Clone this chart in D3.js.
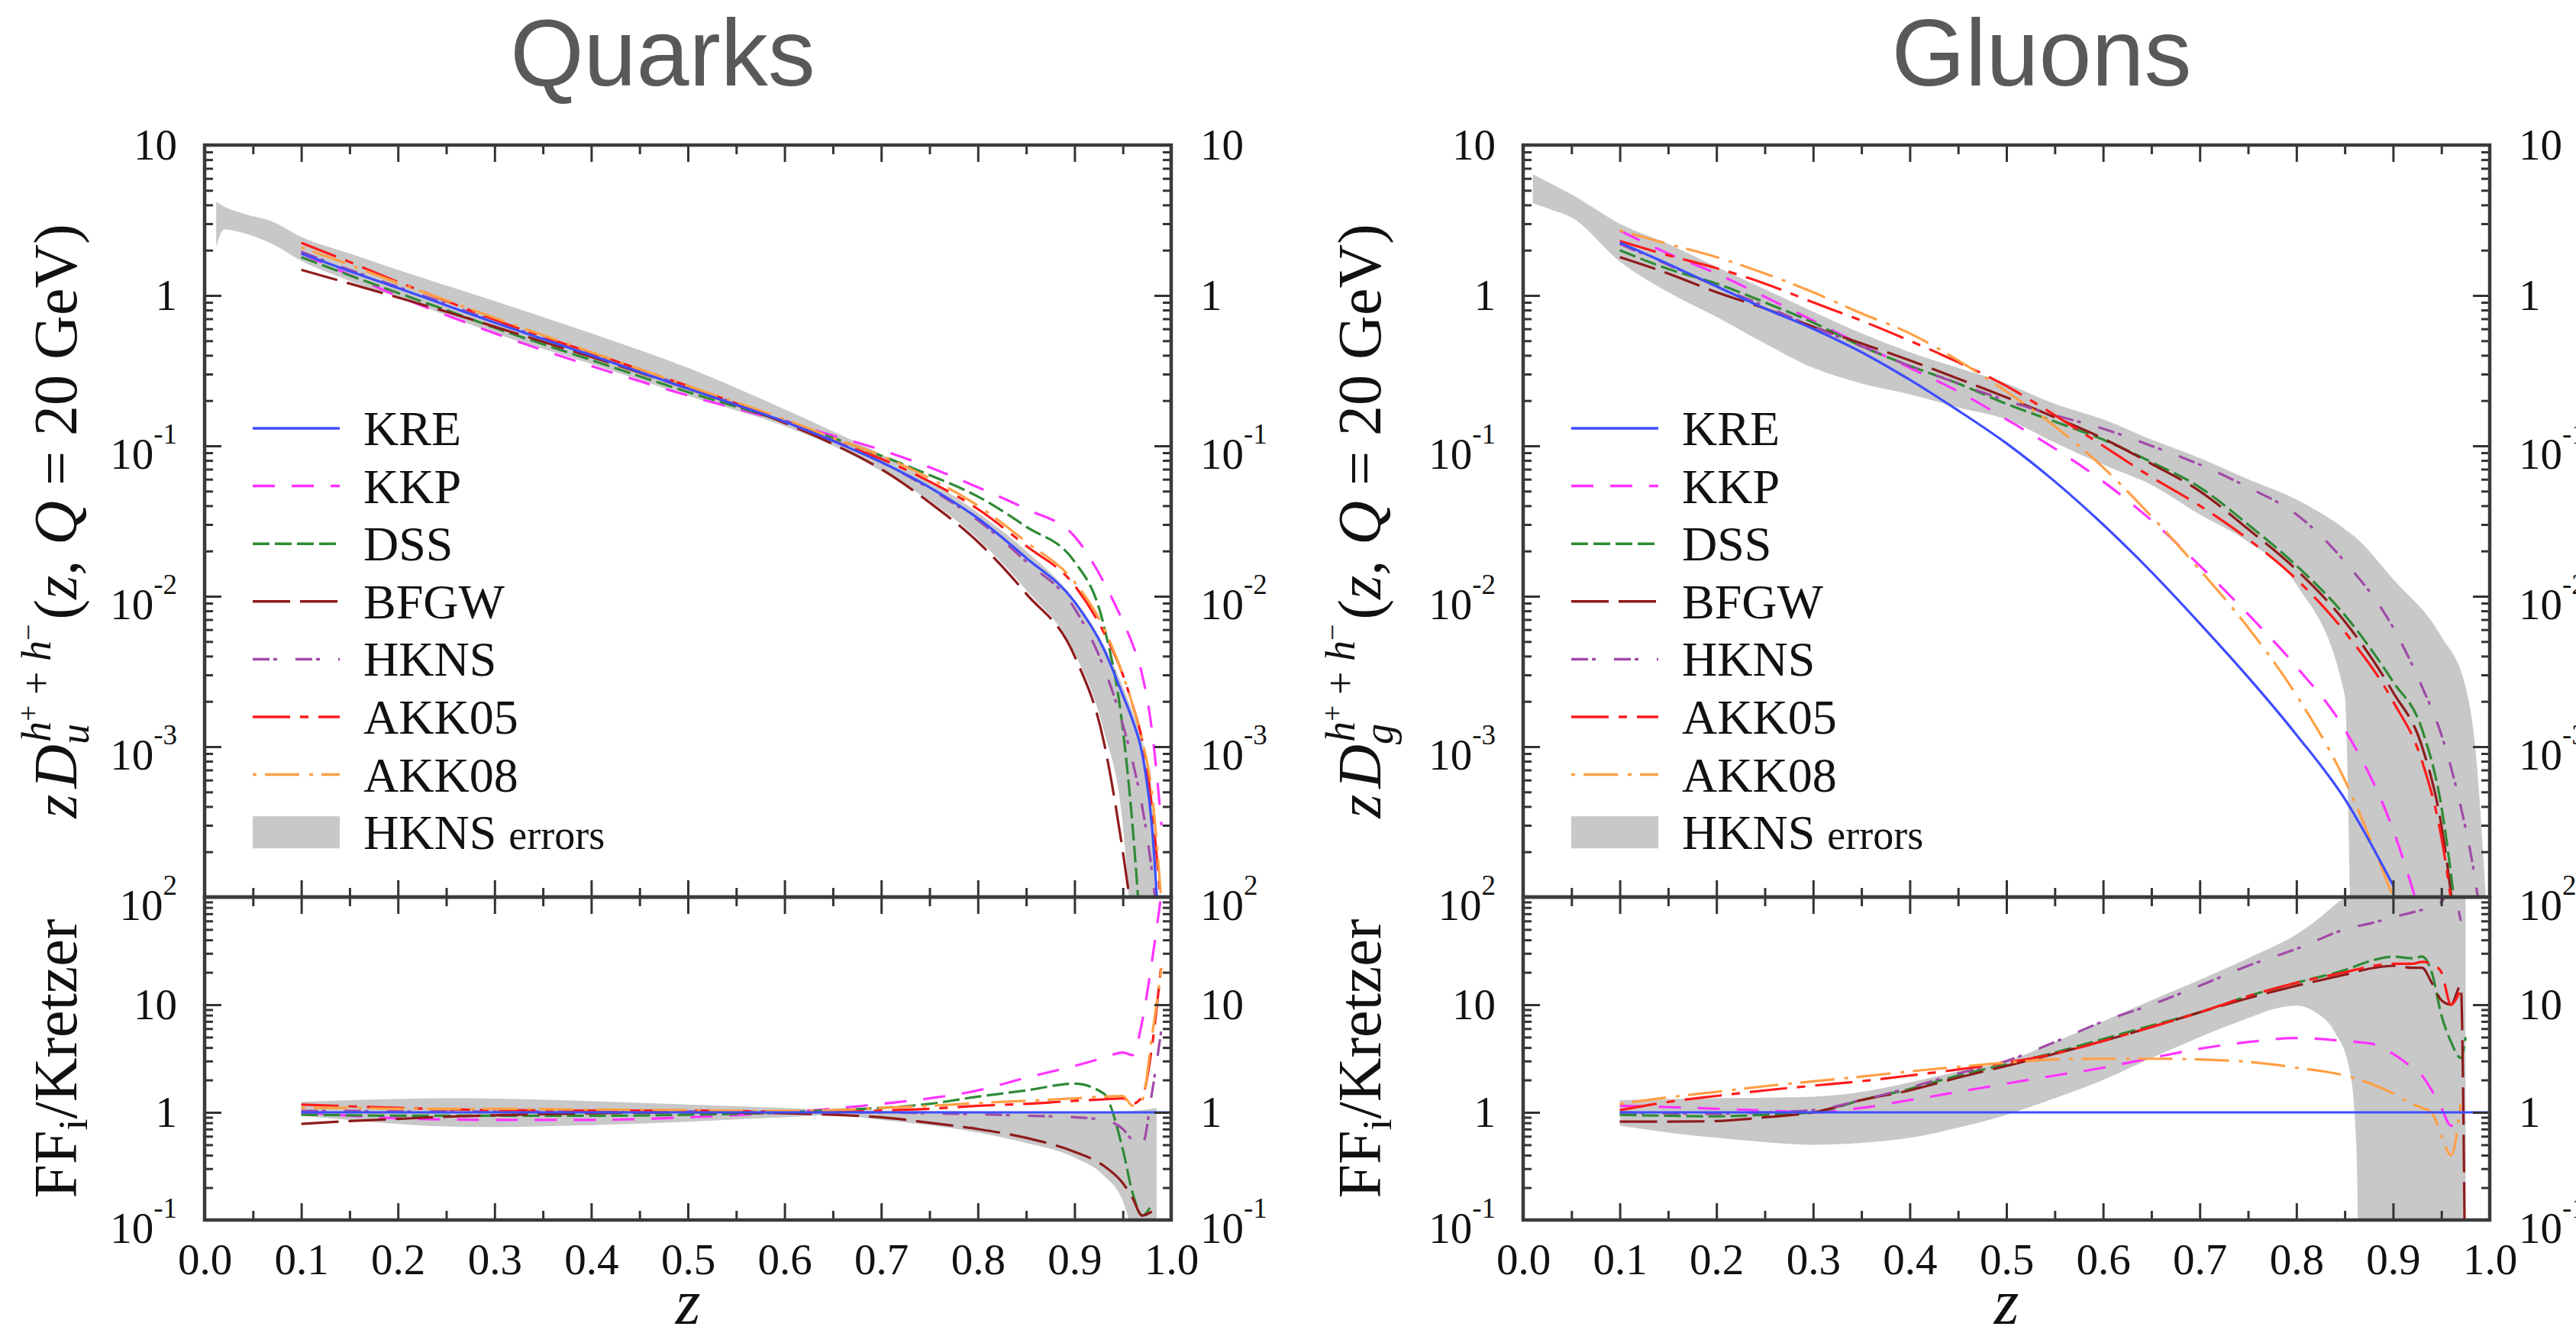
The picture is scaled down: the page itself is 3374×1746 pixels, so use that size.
<!DOCTYPE html>
<html>
<head>
<meta charset="utf-8">
<script src="https://cdn.jsdelivr.net/npm/d3@7"></script>
<style>
  body { margin: 0; background: #fff; }
  svg { display: block; }
  text { font-family: "Liberation Serif", "DejaVu Serif", serif; fill: #111; }
</style>
</head>
<body>
<div id="chart"></div>
<script>
// ---- data ----
var seriesNames = ['KRE', 'KKP', 'DSS', 'BFGW', 'HKNS', 'AKK05', 'AKK08'];
var seriesColors = ['#3d4dff', '#ff33ff', '#2f8a35', '#8e1b1b', '#a04aa8', '#ff1a1a', '#ff9f45'];
var seriesDash = ['none', '29,22', '22,7', '49,13', '22,5,5,24', '49,13,11,13', '5,11,45,13'];
var bandName = 'HKNS errors';

var xTicks = [0.0, 0.1, 0.2, 0.3, 0.4, 0.5, 0.6, 0.7, 0.8, 0.9, 1.0];
var upperTicks = [10, 1, 0.1, 0.01, 0.001];
var upperTickLabels = [['10', ''], ['1', ''], ['10', '-1'], ['10', '-2'], ['10', '-3']];
var lowerTicks = [100, 10, 1, 0.1];
var lowerTickLabels = [['10', '2'], ['10', ''], ['1', ''], ['10', '-1']];

// quarks, upper panel
var zQuark = [0.1, 0.15, 0.2, 0.25, 0.3, 0.4, 0.5, 0.6, 0.65, 0.7, 0.75, 0.8, 0.85, 0.9, 0.93, 0.95, 0.96, 0.97, 0.98, 0.99];
var quarkKRE = [1.9, 1.45, 1.12, 0.86, 0.66, 0.40, 0.24, 0.145, 0.108, 0.078, 0.053, 0.033, 0.018, 0.0092, 0.0045, 0.0022, 0.0015, 0.0009, 0.0003, 0.00003];
var quarkKKP = [1.9, 1.37, 0.99, 0.74, 0.56, 0.34, 0.216, 0.145, 0.117, 0.094, 0.072, 0.053, 0.038, 0.025, 0.0125, 0.0068, 0.0048, 0.003, 0.0013, 0.0003];
var quarkDSS = [1.8, 1.36, 1.04, 0.80, 0.61, 0.372, 0.228, 0.145, 0.113, 0.086, 0.064, 0.046, 0.029, 0.017, 0.0065, 0.0013, 0.0003, 0.00004, null, null];
var quarkBFGW = [1.48, 1.2, 0.97, 0.78, 0.62, 0.39, 0.24, 0.142, 0.103, 0.07, 0.042, 0.023, 0.0104, 0.004, 0.0011, 0.0002, 0.00007, null, null, null];
var quarkHKNS = [1.95, 1.48, 1.14, 0.88, 0.67, 0.41, 0.245, 0.148, 0.109, 0.078, 0.052, 0.032, 0.017, 0.0083, 0.0034, 0.0014, 0.0008, 0.0004, 0.00015, 0.00004];
var quarkAKK05 = [2.24, 1.67, 1.23, 0.92, 0.69, 0.416, 0.25, 0.145, 0.108, 0.082, 0.058, 0.038, 0.0216, 0.0118, 0.0058, 0.003, 0.0019, 0.0011, 0.0004, 0.00008];
var quarkAKK08 = [2.09, 1.6, 1.21, 0.93, 0.71, 0.42, 0.25, 0.15, 0.113, 0.086, 0.061, 0.04, 0.023, 0.0124, 0.0062, 0.003, 0.0019, 0.0011, 0.0005, 0.00009];
var zQuarkBand = [0.012, 0.02, 0.04, 0.07, 0.1, 0.15, 0.2, 0.3, 0.4, 0.5, 0.6, 0.65, 0.7, 0.8, 0.85, 0.9, 0.93, 0.95, 0.96, 0.97, 0.98, 0.985];
var quarkBandHi = [4.2, 3.9, 3.5, 3.1, 2.45, 1.9, 1.48, 0.92, 0.56, 0.33, 0.175, 0.125, 0.088, 0.036, 0.02, 0.0095, 0.0048, 0.0025, 0.0017, 0.0011, 0.0005, 0.0001];
var quarkBandLo = [2.1, 2.75, 2.6, 2.2, 1.7, 1.25, 0.97, 0.56, 0.35, 0.215, 0.135, 0.1, 0.068, 0.024, 0.011, 0.0042, 0.0013, 0.0003, 0.00005, 0.00001, 0.00001, 0.0001];

// quarks, ratio panel
var zQuarkRatio = [0.1, 0.15, 0.2, 0.25, 0.3, 0.4, 0.5, 0.6, 0.65, 0.7, 0.75, 0.8, 0.85, 0.9, 0.93, 0.95, 0.96, 0.97, 0.98, 0.99, 1.0];
var ratioQuarkKRE = [1, 1, 1, 1, 1, 1, 1, 1, 1, 1, 1, 1, 1, 1, 1, 1, 1, 1, 1, 1, 1];
var ratioQuarkKKP = [1.0, 0.93, 0.88, 0.86, 0.85, 0.85, 0.9, 1.0, 1.08, 1.2, 1.35, 1.6, 2.1, 2.7, 3.2, 3.6, 3.4, 7, 25, 110, null];
var ratioQuarkDSS = [0.95, 0.94, 0.93, 0.93, 0.93, 0.93, 0.95, 1.0, 1.05, 1.1, 1.2, 1.4, 1.6, 1.85, 1.5, 0.45, 0.18, 0.11, 0.14, null, null];
var ratioQuarkBFGW = [0.78, 0.83, 0.87, 0.91, 0.94, 0.98, 1.0, 0.98, 0.95, 0.9, 0.8, 0.7, 0.58, 0.43, 0.32, 0.22, 0.16, 0.11, 0.12, null, null];
var ratioQuarkHKNS = [1.03, 1.03, 1.02, 1.02, 1.02, 1.02, 1.02, 1.01, 1.0, 1.0, 0.98, 0.96, 0.93, 0.9, 0.85, 0.7, 0.55, 0.5, 1.5, 6, null];
var ratioQuarkAKK05 = [1.18, 1.14, 1.1, 1.07, 1.05, 1.04, 1.04, 1.01, 1.0, 1.04, 1.08, 1.15, 1.2, 1.28, 1.32, 1.35, 1.2, 1.4, 4, 25, null];
var ratioQuarkAKK08 = [1.1, 1.1, 1.08, 1.08, 1.08, 1.06, 1.05, 1.03, 1.05, 1.1, 1.15, 1.22, 1.28, 1.35, 1.4, 1.42, 1.15, 1.3, 5, 22, null];
var zQuarkRatioBand = [0.1, 0.15, 0.2, 0.25, 0.3, 0.4, 0.5, 0.6, 0.65, 0.7, 0.75, 0.8, 0.85, 0.9, 0.93, 0.95, 0.96, 0.97, 0.98, 0.985];
var ratioQuarkBandHi = [1.25, 1.3, 1.33, 1.35, 1.34, 1.27, 1.18, 1.1, 1.06, 1.04, 1.03, 1.02, 1.01, 1.01, 1.01, 1.02, 1.03, 1.05, 1.08, 1.1];
var ratioQuarkBandLo = [0.93, 0.85, 0.78, 0.74, 0.73, 0.76, 0.82, 0.9, 0.94, 0.85, 0.76, 0.65, 0.52, 0.38, 0.26, 0.15, 0.08, 0.05, 0.05, 0.05];

// gluons, upper panel
var zGluon = [0.1, 0.15, 0.2, 0.25, 0.3, 0.35, 0.4, 0.45, 0.5, 0.55, 0.6, 0.65, 0.7, 0.75, 0.8, 0.85, 0.9, 0.93, 0.95, 0.97, 0.98, 0.99];
var gluonKRE = [2.25, 1.62, 1.15, 0.82, 0.6, 0.42, 0.275, 0.172, 0.104, 0.058, 0.03, 0.0145, 0.0066, 0.0029, 0.0012, 0.00045, 0.00012, null, null, null, null, null];
var gluonKKP = [2.7, 1.9, 1.4, 0.98, 0.68, 0.47, 0.33, 0.23, 0.15, 0.096, 0.058, 0.032, 0.016, 0.0076, 0.0034, 0.0013, 0.00028, 0.00007, null, null, null, null];
var gluonDSS = [2.0, 1.5, 1.2, 0.9, 0.66, 0.46, 0.34, 0.26, 0.19, 0.145, 0.11, 0.078, 0.053, 0.03, 0.016, 0.0075, 0.0027, 0.0013, 0.0004, 0.00004, null, null];
var gluonBFGW = [1.8, 1.4, 1.05, 0.82, 0.62, 0.48, 0.37, 0.28, 0.21, 0.155, 0.112, 0.076, 0.05, 0.028, 0.015, 0.0068, 0.0023, 0.001, 0.0003, 0.00003, null, null];
var gluonHKNS = [2.2, 1.6, 1.15, 0.85, 0.62, 0.46, 0.34, 0.26, 0.2, 0.16, 0.13, 0.1, 0.075, 0.053, 0.035, 0.017, 0.0062, 0.0025, 0.0012, 0.0004, 0.0002, 0.00008];
var gluonAKK05 = [2.3, 1.85, 1.52, 1.2, 0.9, 0.68, 0.5, 0.36, 0.25, 0.16, 0.1, 0.062, 0.04, 0.024, 0.013, 0.0058, 0.002, 0.0008, 0.00025, 0.00003, null, null];
var gluonAKK08 = [2.7, 2.2, 1.8, 1.4, 1.05, 0.76, 0.56, 0.37, 0.23, 0.135, 0.072, 0.034, 0.015, 0.0062, 0.0022, 0.0006, 0.0001, null, null, null, null, null];
var zGluonBand = [0.01, 0.03, 0.05, 0.1, 0.15, 0.2, 0.25, 0.3, 0.35, 0.4, 0.45, 0.5, 0.55, 0.6, 0.65, 0.7, 0.75, 0.8, 0.85, 0.86, 0.9, 0.95, 0.975, 0.985, 0.996];
var gluonBandHi = [6.4, 5.5, 4.7, 3.0, 2.2, 1.55, 1.1, 0.78, 0.56, 0.42, 0.33, 0.26, 0.19, 0.15, 0.11, 0.083, 0.06, 0.044, 0.028, 0.025, 0.013, 0.0054, 0.0025, 0.001, 0.0001];
var gluonBandLo = [4.1, 3.7, 3.3, 1.68, 1.05, 0.72, 0.48, 0.33, 0.26, 0.22, 0.18, 0.15, 0.105, 0.075, 0.055, 0.035, 0.023, 0.012, 0.0022, 0.00001, 0.00001, 0.00001, 0.00001, 0.00001, 0.0001];

// gluons, ratio panel
var zGluonRatio = [0.1, 0.15, 0.2, 0.25, 0.3, 0.35, 0.4, 0.45, 0.5, 0.55, 0.6, 0.65, 0.7, 0.75, 0.8, 0.85, 0.88, 0.9, 0.92, 0.93, 0.94, 0.95, 0.96, 0.97, 0.975, 1.0];
var ratioGluonKRE = [1, 1, 1, 1, 1, 1, 1, 1, 1, 1, 1, 1, 1, 1, 1, 1, 1, 1, 1, 1, 1, 1, 1, 1, 1, 1];
var ratioGluonKKP = [1.15, 1.12, 1.08, 1.04, 1.0, 1.1, 1.3, 1.55, 1.85, 2.2, 2.6, 3.2, 3.9, 4.5, 4.9, 4.6, 4.3, 3.5, 2.6, 2.2, 1.6, 1.1, 0.75, 1.1, null, null];
var ratioGluonDSS = [0.95, 0.93, 0.92, 0.95, 1.0, 1.3, 1.65, 2.2, 2.8, 3.6, 4.8, 6.4, 8.5, 12, 16, 21, 26, 28, 27, 28, 20, 8, 4.5, 3.2, 5, null];
var ratioGluonBFGW = [0.82, 0.82, 0.83, 0.9, 1.0, 1.3, 1.6, 2.1, 2.7, 3.5, 4.6, 6.2, 8.5, 11.5, 15, 19, 22, 23, 22, 22, 16, 11, 10, 15, 0.01, null];
var ratioGluonHKNS = [1.0, 0.98, 0.97, 1.0, 1.05, 1.3, 1.7, 2.3, 3.0, 4.5, 7, 10, 15, 23, 33, 50, 58, 65, 72, 76, 82, 90, 120, 60, null, null];
var ratioGluonAKK05 = [1.05, 1.25, 1.42, 1.6, 1.77, 1.95, 2.2, 2.5, 2.9, 3.5, 4.6, 6.2, 8.5, 12, 16, 20, 23, 24, 24, 25, 24, 20, 10, 14, null, null];
var ratioGluonAKK08 = [1.2, 1.38, 1.55, 1.75, 1.94, 2.15, 2.4, 2.65, 2.9, 3.1, 3.15, 3.15, 3.1, 2.95, 2.6, 2.2, 1.8, 1.5, 1.2, 1.1, 1.0, 0.6, 0.4, 1.2, null, null];
var zGluonRatioBand = [0.1, 0.15, 0.2, 0.25, 0.3, 0.35, 0.4, 0.45, 0.5, 0.55, 0.6, 0.65, 0.7, 0.75, 0.78, 0.8, 0.82, 0.84, 0.855, 0.862, 0.866, 0.9, 0.95, 0.975];
var ratioGluonBandHi = [1.3, 1.33, 1.35, 1.37, 1.4, 1.55, 1.9, 2.4, 3.0, 4.5, 7, 11, 17, 27, 36, 45, 60, 85, 110, 130, 150, 150, 150, 150];
var ratioGluonBandLo = [0.75, 0.65, 0.58, 0.53, 0.5, 0.52, 0.58, 0.72, 0.95, 1.35, 2.0, 3.2, 5.0, 7.5, 9.3, 9.8, 8.5, 5.5, 2.5, 0.5, 0.01, 0.01, 0.01, 0.01];

// ---- layout ----
var W = 3374, H = 1746;
var PW = 1266, TOP = 190, MID = 1175, BOT = 1598;
var bandColor = '#c8c8c8';

var svg = d3.select('#chart').append('svg')
    .attr('width', W)
    .attr('height', H);

function zip(zs, vs) {
    return zs.map(function (z, i) { return {z: z, v: vs[i]}; });
}

function drawPanel(cfg) {
    var x = d3.scaleLinear().domain([0, 1]).range([cfg.left, cfg.left + PW]);
    var yU = d3.scaleLog().domain([1e-4, 10]).range([MID, TOP]);
    var yL = d3.scaleLog().domain([0.1, 100]).range([BOT, MID]);
    var g = svg.append('g');

    // clip paths for the two panels
    var defs = svg.append('defs');
    defs.append('clipPath').attr('id', cfg.id + 'U')
        .append('rect').attr('x', cfg.left).attr('y', TOP).attr('width', PW).attr('height', MID - TOP);
    defs.append('clipPath').attr('id', cfg.id + 'L')
        .append('rect').attr('x', cfg.left).attr('y', MID).attr('width', PW).attr('height', BOT - MID);

    var gU = g.append('g').attr('clip-path', 'url(#' + cfg.id + 'U)');
    var gL = g.append('g').attr('clip-path', 'url(#' + cfg.id + 'L)');

    function band(target, y, zs, lo, hi) {
        var data = zs.map(function (z, i) { return {z: z, lo: lo[i], hi: hi[i]}; });
        var area = d3.area()
            .x(function (d) { return x(d.z); })
            .y0(function (d) { return y(d.lo); })
            .y1(function (d) { return y(d.hi); })
            .curve(d3.curveMonotoneX);
        target.append('path').datum(data).attr('d', area).attr('fill', bandColor);
    }

    function curves(target, y, zs, list) {
        var line = d3.line()
            .defined(function (d) { return d.v != null; })
            .x(function (d) { return x(d.z); })
            .y(function (d) { return y(d.v); })
            .curve(d3.curveMonotoneX);
        // KRE last, it sits on top in the figure
        var order = [1, 2, 3, 4, 5, 6, 0];
        order.forEach(function (i) {
            target.append('path')
                .datum(zip(zs, list[i]))
                .attr('d', line)
                .attr('fill', 'none')
                .attr('stroke', seriesColors[i])
                .attr('stroke-width', 3.2)
                .attr('stroke-dasharray', seriesDash[i]);
        });
    }

    band(gU, yU, cfg.bandZ, cfg.bandLo, cfg.bandHi);
    curves(gU, yU, cfg.z, cfg.upper);
    band(gL, yL, cfg.rbandZ, cfg.rbandLo, cfg.rbandHi);
    curves(gL, yL, cfg.rz, cfg.ratio);

    // ticks (all inward)
    function minors(lo, hi) {
        var out = [];
        for (var e = lo; e < hi; e++) {
            for (var m = 2; m <= 9; m++) out.push(m * Math.pow(10, e));
        }
        return out;
    }
    var xMajor = xTicks, xMinor = d3.range(0.05, 1, 0.1);
    var ax = g.append('g');
    function tickAxis(axis, tr, size) {
        var a = ax.append('g').attr('transform', tr).call(axis.tickSize(size).tickFormat(''));
        a.select('.domain').remove();
        a.selectAll('line').attr('stroke', '#333').attr('stroke-width', 3);
    }
    [[TOP, MID, yU, -4, 1], [MID, BOT, yL, -1, 2]].forEach(function (p) {
        var y = p[2];
        tickAxis(d3.axisTop(x).tickValues(xMajor), 'translate(0,' + p[0] + ')', -22);
        tickAxis(d3.axisTop(x).tickValues(xMinor), 'translate(0,' + p[0] + ')', -12);
        tickAxis(d3.axisBottom(x).tickValues(xMajor), 'translate(0,' + p[1] + ')', -22);
        tickAxis(d3.axisBottom(x).tickValues(xMinor), 'translate(0,' + p[1] + ')', -12);
        var maj = d3.range(p[3], p[4] + 1).map(function (e) { return Math.pow(10, e); });
        tickAxis(d3.axisLeft(y).tickValues(maj), 'translate(' + cfg.left + ',0)', -22);
        tickAxis(d3.axisLeft(y).tickValues(minors(p[3], p[4])), 'translate(' + cfg.left + ',0)', -11);
        tickAxis(d3.axisRight(y).tickValues(maj), 'translate(' + (cfg.left + PW) + ',0)', -22);
        tickAxis(d3.axisRight(y).tickValues(minors(p[3], p[4])), 'translate(' + (cfg.left + PW) + ',0)', -11);
    });

    // frames
    g.append('rect').attr('x', cfg.left).attr('y', TOP).attr('width', PW).attr('height', MID - TOP)
        .attr('fill', 'none').attr('stroke', '#3a3a3a').attr('stroke-width', 4.5);
    g.append('rect').attr('x', cfg.left).attr('y', MID).attr('width', PW).attr('height', BOT - MID)
        .attr('fill', 'none').attr('stroke', '#3a3a3a').attr('stroke-width', 4.5);

    // x tick labels
    var xl = g.append('g').attr('transform', 'translate(0,' + BOT + ')')
        .call(d3.axisBottom(x).tickValues(xTicks).tickFormat(d3.format('.1f')).tickSize(0).tickPadding(31));
    xl.select('.domain').remove();
    xl.attr('font-family', '"Liberation Serif", serif').attr('font-size', 57);
    xl.selectAll('text').attr('fill', '#111');

    // y tick labels, both sides
    function yLabels(vals, labs, y) {
        vals.forEach(function (v, i) {
            var hasSup = labs[i][1] !== '';
            var by = y(v) + (hasSup ? 30 : 19);
            [[cfg.left - 36, 'end'], [cfg.left + PW + 38, 'start']].forEach(function (s) {
                var t = g.append('text').attr('x', s[0]).attr('y', by)
                    .attr('text-anchor', s[1]).attr('font-size', 57);
                t.append('tspan').text(labs[i][0]);
                if (hasSup) {
                    t.append('tspan').attr('font-size', 37).attr('dy', -33).text(labs[i][1]);
                }
            });
        });
    }
    yLabels(upperTicks, upperTickLabels, yU);
    yLabels(lowerTicks, lowerTickLabels, yL);

    // axis titles
    var t1 = g.append('text')
        .attr('transform', 'translate(' + cfg.ylabX + ',' + ((TOP + MID) / 2) + ') rotate(-90)')
        .attr('text-anchor', 'middle').attr('font-size', 80);
    t1.append('tspan').attr('font-style', 'italic').text('z');
    t1.append('tspan').attr('font-style', 'italic').attr('dx', 8).text('D');
    t1.append('tspan').attr('font-style', 'italic').attr('font-size', 54).attr('dy', 16).text(cfg.flavour);
    t1.append('tspan').attr('font-style', 'italic').attr('font-size', 54).attr('dx', -24).attr('dy', -50).text('h');
    t1.append('tspan').attr('font-size', 38).attr('dy', -16).text('+');
    t1.append('tspan').attr('font-size', 54).attr('dy', 16).text(' + ');
    t1.append('tspan').attr('font-style', 'italic').attr('font-size', 54).text('h');
    t1.append('tspan').attr('font-size', 38).attr('dy', -16).text('\u2212');
    t1.append('tspan').attr('dy', 50).attr('dx', 6).text('(');
    t1.append('tspan').attr('font-style', 'italic').text('z');
    t1.append('tspan').text(', ');
    t1.append('tspan').attr('font-style', 'italic').text('Q');
    t1.append('tspan').text(' = 20 GeV)');

    var t2 = g.append('text')
        .attr('transform', 'translate(' + cfg.ylabX + ',' + ((MID + BOT) / 2) + ') rotate(-90)')
        .attr('text-anchor', 'middle').attr('font-size', 80);
    t2.append('tspan').text('FF');
    t2.append('tspan').attr('font-size', 54).attr('dy', 14).text('i');
    t2.append('tspan').attr('dy', -14).text('/Kretzer');

    g.append('text').attr('x', cfg.left + PW / 2).attr('y', 1734)
        .attr('text-anchor', 'middle').attr('font-size', 84).attr('font-style', 'italic').text('z');

    // title
    g.append('text').attr('x', cfg.titleX).attr('y', 112)
        .attr('text-anchor', 'middle')
        .style('font-family', '"Liberation Sans", Arial, sans-serif')
        .style('fill', '#595959')
        .attr('font-size', 124)
        .text(cfg.title);

    // legend
    var lg = g.append('g');
    var x0 = cfg.left + 63, x1 = cfg.left + 177, tx = cfg.left + 208;
    seriesNames.forEach(function (n, i) {
        var yy = 561 + i * 75.6;
        lg.append('line').attr('x1', x0).attr('x2', x1).attr('y1', yy).attr('y2', yy)
            .attr('stroke', seriesColors[i]).attr('stroke-width', 3.5)
            .attr('stroke-dasharray', seriesDash[i]);
        lg.append('text').attr('x', tx).attr('y', yy + 22).attr('font-size', 64).text(n);
    });
    var yb = 561 + 7 * 75.6;
    lg.append('rect').attr('x', x0).attr('y', yb - 21).attr('width', x1 - x0).attr('height', 42)
        .attr('fill', bandColor);
    var bt = lg.append('text').attr('x', tx).attr('y', yb + 22).attr('font-size', 64);
    bt.append('tspan').text('HKNS ');
    bt.append('tspan').attr('font-size', 54).text('errors');
}

drawPanel({
    id: 'q', left: 268, title: 'Quarks', titleX: 868, ylabX: 100, flavour: 'u',
    z: zQuark,
    upper: [quarkKRE, quarkKKP, quarkDSS, quarkBFGW, quarkHKNS, quarkAKK05, quarkAKK08],
    bandZ: zQuarkBand, bandLo: quarkBandLo, bandHi: quarkBandHi,
    rz: zQuarkRatio,
    ratio: [ratioQuarkKRE, ratioQuarkKKP, ratioQuarkDSS, ratioQuarkBFGW, ratioQuarkHKNS, ratioQuarkAKK05, ratioQuarkAKK08],
    rbandZ: zQuarkRatioBand, rbandLo: ratioQuarkBandLo, rbandHi: ratioQuarkBandHi
});

drawPanel({
    id: 'g', left: 1995, title: 'Gluons', titleX: 2674, ylabX: 1808, flavour: 'g',
    z: zGluon,
    upper: [gluonKRE, gluonKKP, gluonDSS, gluonBFGW, gluonHKNS, gluonAKK05, gluonAKK08],
    bandZ: zGluonBand, bandLo: gluonBandLo, bandHi: gluonBandHi,
    rz: zGluonRatio,
    ratio: [ratioGluonKRE, ratioGluonKKP, ratioGluonDSS, ratioGluonBFGW, ratioGluonHKNS, ratioGluonAKK05, ratioGluonAKK08],
    rbandZ: zGluonRatioBand, rbandLo: ratioGluonBandLo, rbandHi: ratioGluonBandHi
});
</script>
</body>
</html>
